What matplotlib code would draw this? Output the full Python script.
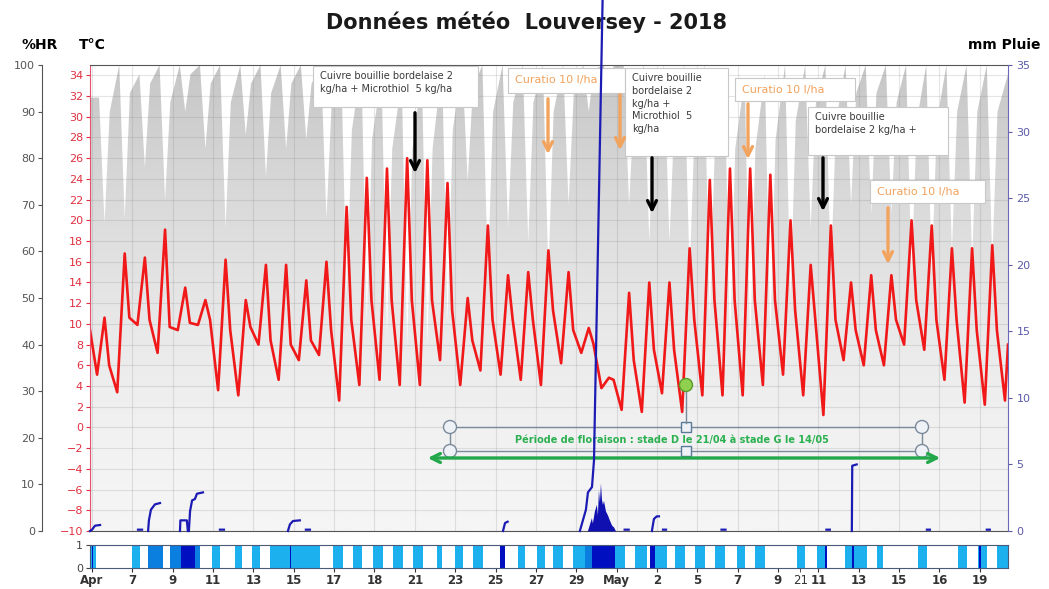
import numpy as np
import matplotlib.pyplot as plt
from matplotlib.patches import Rectangle, Circle
from matplotlib.colors import LinearSegmentedColormap

W, H = 1049, 589

# x unit = days, day 0 = 5 April 2018 at midnight
x_ticks = np.arange(0, 45, 2)
x_labels = ['Apr', '7', '9', '11', '13', '15', '17', '18', '21', '23', '25', '27',
            '29', 'May', '2', '5', '7', '9', '11', '13', '15', '16', '19']

# temperature (°C) read per day: morning low, afternoon high, evening value
t_first, t_last = 9.4, 8.0
t_low = [5.1, 3.4, 9.9, 7.2, 9.4, 9.9, 3.6, 3.1, 8.0, 4.6, 6.5, 7.0, 2.6, 4.1, 4.6,
         4.1, 4.1, 6.5, 4.1, 5.5, 5.1, 4.6, 4.1, 6.2, 7.2, 3.8, 1.7, 1.5, 3.3, 1.5,
         3.1, 3.1, 3.1, 4.1, 5.1, 3.1, 1.2, 6.5, 6.0, 6.0, 8.0, 7.5, 4.6, 2.4, 2.2, 2.6]
t_high = [10.6, 16.8, 16.4, 19.1, 13.5, 12.3, 16.2, 12.3, 15.7, 15.7, 14.2, 16.0, 21.3,
          24.1, 25.0, 26.0, 25.8, 23.6, 12.5, 19.5, 14.7, 15.0, 17.1, 15.0, 9.6, 4.8,
          13.0, 14.0, 14.0, 17.3, 23.9, 25.0, 25.0, 24.4, 20.0, 15.7, 19.5, 14.0, 14.7,
          14.7, 20.0, 19.5, 17.3, 17.3, 17.6]
t_eve = [6.0, 10.6, 10.4, 9.7, 10.1, 10.4, 9.4, 9.7, 8.4, 8.0, 8.4, 9.4, 10.4, 12.3,
         12.3, 12.3, 12.3, 11.3, 8.4, 10.4, 10.4, 10.4, 11.3, 9.4, 8.1, 4.6, 6.5, 7.5,
         7.5, 10.4, 12.3, 12.3, 12.3, 12.3, 11.3, 10.4, 10.4, 9.4, 9.4, 10.4, 12.3, 10.4,
         10.4, 9.4, 9.4]

# relative humidity (%) read per day: morning, afternoon low, evening
hr_first, hr_last = 93, 98
hr_am = [93, 100, 98, 100, 100, 100, 100, 100, 100, 100, 100, 100, 100, 100, 98,
         97, 98, 100, 100, 100, 100, 100, 100, 100, 100, 100, 100, 100, 100, 100,
         100, 98, 97, 98, 100, 100, 100, 100, 100, 100, 100, 100, 100, 100, 100]
hr_pm = [66, 67, 78, 71, 90, 82, 65, 85, 76, 82, 84, 67, 50, 45, 42, 40, 40, 45, 75,
         55, 65, 62, 55, 70, 90, 97, 70, 62, 62, 55, 45, 40, 40, 42, 50, 65, 55, 70,
         68, 68, 55, 55, 60, 58, 58]
hr_eve = [90, 94, 96, 92, 98, 96, 92, 96, 94, 96, 96, 92, 86, 84, 82, 82, 82, 86, 95,
          90, 92, 92, 90, 94, 99, 100, 92, 90, 90, 88, 84, 82, 82, 84, 88, 92, 88, 94,
          94, 92, 88, 88, 90, 90, 90]

# rain (mm), one line per shower, NaN between showers
rain_days = [-0.1, 0.0, 0.15, 0.4, np.nan,
             2.28, 2.48, np.nan,
             2.78, 2.82, 2.92, 3.12, 3.37, np.nan,
             4.36, 4.38, 4.7, 4.75, np.nan,
             4.8, 4.86, 4.96, 5.1, 5.2, 5.5, np.nan,
             6.34, 6.54, np.nan,
             9.71, 9.81, 9.96, 10.3, np.nan,
             10.6, 10.8, np.nan,
             20.37, 20.47, 20.6, np.nan,
             24.18, 24.33, 24.48, 24.58, 24.78, 24.88, 25.32, np.nan,
             26.4, 26.6, np.nan,
             27.75, 27.85, 27.99, 28.1, np.nan,
             28.3, 28.45, np.nan,
             31.2, 31.4, np.nan,
             36.4, 36.57, np.nan,
             37.66, 37.68, 37.9, np.nan,
             41.38, 41.53, np.nan,
             44.35, 44.5]
rain_mm = [0, 0.1, 0.4, 0.45, np.nan,
           0.1, 0.1, np.nan,
           0, 0.8, 1.6, 2.0, 2.1, np.nan,
           0, 0.8, 0.8, 0, np.nan,
           0, 1.5, 2.3, 2.4, 2.8, 2.9, np.nan,
           0.1, 0.1, np.nan,
           0, 0.5, 0.75, 0.8, np.nan,
           0.1, 0.1, np.nan,
           0, 0.6, 0.7, np.nan,
           0, 0.8, 1.6, 2.9, 3.3, 5.3, 41.0, np.nan,
           0.1, 0.1, np.nan,
           0, 0.9, 1.1, 1.1, np.nan,
           0.1, 0.1, np.nan,
           0.1, 0.1, np.nan,
           0.1, 0.1, np.nan,
           0, 4.9, 5.0, np.nan,
           0.1, 0.1, np.nan,
           0.1, 0.1]

# hourly rain intensity during the 29/04 - 01/05 episode
rate_days = [24.55, 24.65, 24.75, 24.8, 24.9, 25.0, 25.05, 25.1, 25.15, 25.2, 25.25,
             25.3, 25.35, 25.45, 25.55, 25.65, 25.75, 25.85, 25.95]
rate_mm = [0, 0.5, 1.0, 0.6, 1.5, 2.0, 1.2, 3.1, 2.2, 3.6, 2.4, 2.0, 2.3, 1.5, 1.2,
           0.8, 0.45, 0.3, 0]

# leaf wetness bands (start day, end day)
wet_light = [(-0.1, 0.2), (1.98, 2.38), (5.95, 6.34), (7.09, 7.43), (7.93, 8.33),
             (8.82, 11.3), (11.94, 12.44), (12.93, 13.38), (13.92, 14.42), (14.92, 15.41),
             (15.9, 16.4), (17.1, 17.34), (17.99, 18.38), (18.88, 19.37), (21.1, 21.46),
             (22.05, 22.45), (22.84, 23.34), (23.84, 24.43), (25.92, 26.41), (26.9, 27.5),
             (27.9, 28.5), (28.89, 29.38), (29.88, 30.38), (30.87, 31.37), (31.96, 32.36),
             (32.85, 33.35), (34.94, 35.33), (35.93, 36.42), (37.31, 38.4), (38.9, 39.2),
             (40.93, 41.38), (42.91, 43.36), (43.9, 44.35), (44.85, 45.4)]
wet_mid = [(2.78, 3.52), (3.87, 4.4), (5.1, 5.35), (24.43, 24.78)]
wet_dark = [(0.0, 0.05), (4.4, 5.1), (9.8, 9.86), (20.22, 20.47), (24.78, 25.92),
            (27.65, 27.9), (36.35, 36.45), (37.68, 37.76), (43.98, 44.05)]

# ---------------------------------------------------------------- series
n = len(t_high)
d = np.arange(n)
t_x = np.concatenate([[-0.1], np.column_stack([d + 0.25, d + 0.62, d + 0.85]).ravel(),
                      [n + 0.25, n + 0.4]])
t_y = np.concatenate([[t_first], np.column_stack([t_low[:n], t_high, t_eve]).ravel(),
                      [t_low[n], t_last]])
hr_x = np.concatenate([[-0.1], np.column_stack([d + 0.35, d + 0.62, d + 0.88]).ravel(), [45.4]])
hr_y = np.concatenate([[hr_first], np.column_stack([hr_am, hr_pm, hr_eve]).ravel(), [hr_last]])
XLIM = (-0.1, 45.4)


def px_rect(x0, y0, x1, y1):
    return [x0 / W, 1 - y1 / H, (x1 - x0) / W, (y1 - y0) / H]


fig = plt.figure(figsize=(W / 100, H / 100), dpi=100)
main = px_rect(90, 65, 1008, 531)

# humidity (bottom layer), grey gradient clipped to the area under the curve
ax_hr = fig.add_axes(main, zorder=1)
ax_hr.set_facecolor('white')
poly = ax_hr.fill_between(hr_x, 0, hr_y, color='none', lw=0)
cmap = LinearSegmentedColormap.from_list('hr', ['#f5f5f5', '#c6c6c6'])
grad = (np.linspace(0, 1, 256) ** 1.6).reshape(-1, 1)
im = ax_hr.imshow(grad, extent=[XLIM[0], XLIM[1], 0, 100], origin='lower',
                  aspect='auto', cmap=cmap, vmin=0, vmax=1)
im.set_clip_path(poly.get_paths()[0], transform=ax_hr.transData)
ax_hr.set_xlim(XLIM)
ax_hr.set_ylim(0, 100)
ax_hr.set_yticks(range(0, 101, 10))
ax_hr.set_xticks([])
for s in ['top', 'right', 'bottom']:
    ax_hr.spines[s].set_visible(False)
ax_hr.spines['left'].set_position(('outward', 34.5))
ax_hr.spines['left'].set_color('#555555')
ax_hr.tick_params(axis='y', labelsize=8, colors='#555555', length=3, pad=2)

# temperature
ax_t = fig.add_axes(main, zorder=2)
ax_t.patch.set_alpha(0)
ax_t.plot(t_x, t_y, color='#f01818', lw=1.9, solid_joinstyle='round')
ax_t.set_xlim(XLIM)
ax_t.set_ylim(-10, 35)
ax_t.set_yticks(np.arange(-10, 35, 2))
ax_t.set_xticks(x_ticks)
ax_t.tick_params(axis='x', length=0, labelbottom=False)
ax_t.tick_params(axis='y', labelsize=8, colors='#e03040', length=3, pad=2)
ax_t.grid(True, color='#808080', alpha=0.2, lw=0.8)
ax_t.set_axisbelow(True)
ax_t.spines['left'].set_color('#e85070')
ax_t.spines['right'].set_visible(False)
ax_t.spines['top'].set_color('#555555')
ax_t.spines['bottom'].set_color('#555555')

# annotations layer, in figure pixels
ov = fig.add_axes([0, 0, 1, 1], zorder=3)
ov.set_xlim(0, W)
ov.set_ylim(H, 0)
ov.axis('off')
ov.patch.set_alpha(0)

note = '#3a3a3a'
orange = '#f2a35e'
boxes = [
    (313, 66, 165, 41, 'Cuivre bouillie bordelaise 2\nkg/ha + Microthiol  5 kg/ha', note, 7),
    (508, 68, 117, 25, 'Curatio 10 l/ha', orange, 8),
    (625, 68, 103, 88, 'Cuivre bouillie\nbordelaise 2\nkg/ha +\nMicrothiol  5\nkg/ha', note, 7),
    (735, 78, 120, 23, 'Curatio 10 l/ha', orange, 8),
    (808, 107, 140, 48, 'Cuivre bouillie\nbordelaise 2 kg/ha +', note, 7),
    (870, 180, 115, 23, 'Curatio 10 l/ha', orange, 8),
]
for bx, by, bw, bh, txt, col, fs in boxes:
    ov.add_patch(Rectangle((bx, by), bw, bh, facecolor='white', edgecolor='#c8c8c8', lw=0.8))
    if col == orange:
        ov.text(bx + 7, by + bh / 2, txt, color=col, fontsize=fs, va='center', ha='left')
    else:
        ov.text(bx + 7, by + 5, txt, color=col, fontsize=fs, va='top', ha='left',
                linespacing=1.35)

arrows = [((415, 110), (415, 176), 'black'), ((652, 155), (652, 216), 'black'),
          ((823, 155), (823, 214), 'black'), ((548, 96), (548, 157), orange),
          ((620, 92), (620, 153), orange), ((748, 101), (748, 162), orange),
          ((888, 205), (888, 267), orange)]
for (x0, y0), (x1, y1), col in arrows:
    ov.annotate('', xy=(x1, y1), xytext=(x0, y0),
                arrowprops=dict(arrowstyle='->', color=col, lw=2.4, mutation_scale=16))

# flowering period and the slide's selection handles
handle_edge = '#7a8a9a'
ov.add_patch(Rectangle((450, 427), 472, 24, facecolor='none', edgecolor=handle_edge, lw=1))
ov.plot([686, 686], [392, 423], color=handle_edge, lw=1)
for cx, cy in [(450, 427), (450, 451), (922, 427), (922, 451)]:
    ov.add_patch(Circle((cx, cy), 6.5, facecolor='#eef2f6', edgecolor=handle_edge, lw=1))
for cx, cy in [(686, 427), (686, 451)]:
    ov.add_patch(Rectangle((cx - 5, cy - 5), 10, 10, facecolor='#eef2f6',
                           edgecolor='#5a7a9a', lw=1))
ov.add_patch(Circle((686, 385), 6.5, facecolor='#8fd14f', edgecolor='#5a9a2a', lw=1))
ov.text(672, 440, 'Période de floraison : stade D le 21/04 à stade G le 14/05',
        color='#2bb050', fontsize=7, fontweight='bold', ha='center', va='center')
ov.annotate('', xy=(943, 458), xytext=(425, 458),
            arrowprops=dict(arrowstyle='<->', color='#22a84a', lw=2.4, mutation_scale=16))

# rain (top layer)
ax_r = fig.add_axes(main, zorder=4)
ax_r.patch.set_alpha(0)
ax_r.fill_between(rate_days, 0, rate_mm, color='#1010b0', lw=0)
ax_r.plot(rain_days, rain_mm, color='#1c1cb4', lw=1.6, clip_on=False)
ax_r.set_xlim(XLIM)
ax_r.set_ylim(0, 35)
ax_r.set_xticks([])
ax_r.yaxis.tick_right()
ax_r.set_yticks(range(0, 36, 5))
ax_r.tick_params(axis='y', labelsize=8, colors='#5a5aa8', length=3, pad=3)
for s in ['top', 'left', 'bottom']:
    ax_r.spines[s].set_visible(False)
ax_r.spines['right'].set_color('#6a6ab8')

# leaf wetness strip
ax_s = fig.add_axes(px_rect(90, 545, 1008, 568))
for bands, col in [(wet_light, '#1cb0ee'), (wet_mid, '#0a7fe0'), (wet_dark, '#0010c0')]:
    for a, b in bands:
        ax_s.axvspan(a, b, color=col, lw=0)
ax_s.set_xlim(XLIM)
ax_s.set_ylim(0, 1)
ax_s.set_yticks([0, 1])
ax_s.tick_params(axis='y', labelsize=8, colors='#444444', length=3, pad=2)
ax_s.set_xticks(x_ticks)
ax_s.set_xticklabels(x_labels, fontsize=8.5, fontweight='bold', color='#222222')
ax_s.set_xticks([35.1], minor=True)
ax_s.set_xticklabels(['21'], minor=True, fontsize=8.5, color='#333333')
ax_s.tick_params(axis='x', which='both', length=3, pad=1, colors='#333333')
for s in ax_s.spines.values():
    s.set_color('#4a5a7a')

# titles
fig.text(526 / W, 1 - 22 / H, 'Données météo  Louversey - 2018', fontsize=15,
         fontweight='bold', ha='center', va='center', color='#1a1a1a')
fig.text(40 / W, 1 - 45 / H, '%HR', fontsize=10, fontweight='bold', ha='center', va='center')
fig.text(92 / W, 1 - 45 / H, 'T°C', fontsize=10, fontweight='bold', ha='center', va='center')
fig.text(1004 / W, 1 - 45 / H, 'mm Pluie', fontsize=10, fontweight='bold', ha='center',
         va='center')

fig.savefig('out.png', dpi=100)
